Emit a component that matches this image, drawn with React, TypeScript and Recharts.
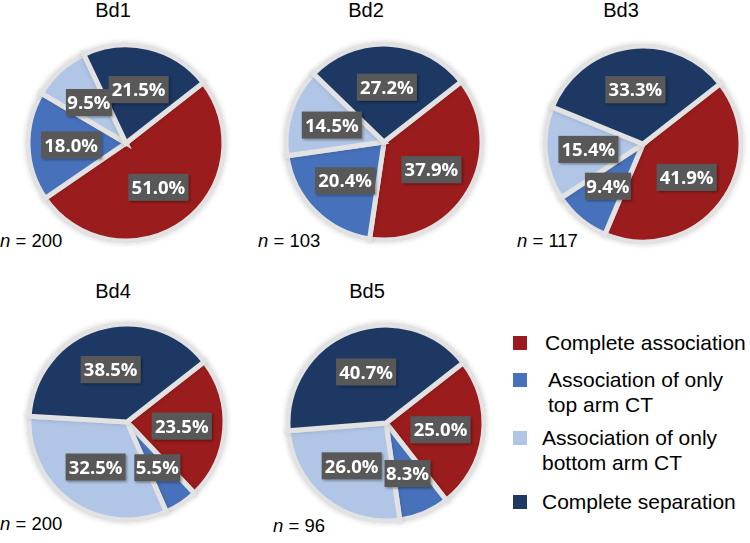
import React from 'react'
import { PieChart, Pie, Cell } from 'recharts'

const CATEGORIES = [
  'Complete association',
  'Association of only top arm CT',
  'Association of only bottom arm CT',
  'Complete separation',
]
const TITLES = ['Bd1', 'Bd2', 'Bd3', 'Bd4', 'Bd5']
const N_VALUES = [200, 103, 117, 200, 96]
const BD1 = [51.0, 18.0, 9.5, 21.5]
const BD2 = [37.9, 20.4, 14.5, 27.2]
const BD3 = [41.9, 9.4, 15.4, 33.3]
const BD4 = [23.5, 5.5, 32.5, 38.5]
const BD5 = [25.0, 8.3, 26.0, 40.7]

const SERIES = [BD1, BD2, BD3, BD4, BD5]
const COLORS = ['#9a1b1f', '#4671bb', '#b1c6e7', '#1f3864']

// panel geometry: pie centre, title centre, n-label origin
const PANELS = [
  { cx: 121, cy: 138, tx: 113, ty: 10, nx: 0, ny: 241 },
  { cx: 379, cy: 137, tx: 366, ty: 10, nx: 258, ny: 241 },
  { cx: 638, cy: 139, tx: 621, ty: 10, nx: 517, ny: 241 },
  { cx: 122, cy: 417, tx: 113, ty: 291, nx: 0, ny: 524 },
  { cx: 381, cy: 418, tx: 367, ty: 291, nx: 273, ny: 526 },
]

const RAD = Math.PI / 180
const font = '"Liberation Sans", Arial, sans-serif'

function PctLabel(props: any) {
  const { cx, cy, midAngle, outerRadius, value } = props
  const r = outerRadius * 0.56
  const x = cx + r * Math.cos(-midAngle * RAD)
  const y = cy + r * Math.sin(-midAngle * RAD)
  const text = `${Number(value).toFixed(1)}%`
  const w = text.length * 14 - 10
  const h = 27
  return (
    <g filter="url(#labelShadow)">
      <rect x={x - w / 2} y={y - h / 2} width={w} height={h} fill="#595959" />
      <text
        x={x}
        y={y}
        dy="0.36em"
        textAnchor="middle"
        fill="#ffffff"
        fontSize={18.5}
        fontWeight={700}
        fontFamily='"Open Sans", sans-serif'
      >
        {text}
      </text>
    </g>
  )
}

export default function App() {
  return (
    <div style={{ position: 'absolute', left: 0, top: 0, width: 750, height: 543, background: '#fff', overflow: 'hidden' }}>
      <svg width={0} height={0} style={{ position: 'absolute' }}>
        <defs>
          <filter id="labelShadow" x="-20%" y="-30%" width="150%" height="170%">
            <feDropShadow dx="1.5" dy="1.5" stdDeviation="1.2" floodColor="#000" floodOpacity="0.35" />
          </filter>
          <filter id="pieShadow" x="-10%" y="-10%" width="120%" height="120%">
            <feDropShadow dx="0" dy="0" stdDeviation="2.5" floodColor="#000" floodOpacity="0.18" />
          </filter>
        </defs>
      </svg>

      <PieChart width={750} height={543} style={{ position: 'absolute', left: 0, top: 0 }}>
        {SERIES.map((vals, p) => (
          <Pie
            key={TITLES[p]}
            data={CATEGORIES.map((name, i) => ({ name, value: vals[i] }))}
            dataKey="value"
            nameKey="name"
            cx={PANELS[p].cx}
            cy={PANELS[p].cy}
            outerRadius={98}
            startAngle={38}
            endAngle={38 - 360}
            stroke="#e2e2e2"
            strokeWidth={5}
            label={PctLabel}
            labelLine={false}
            isAnimationActive={false}
          >
            {vals.map((_, i) => (
              <Cell key={i} fill={COLORS[i]} filter="url(#pieShadow)" />
            ))}
          </Pie>
        ))}
      </PieChart>

      {TITLES.map((t, p) => (
        <div
          key={t}
          style={{
            position: 'absolute',
            left: PANELS[p].tx - 40,
            width: 80,
            top: PANELS[p].ty - 12,
            textAlign: 'center',
            fontFamily: font,
            fontSize: 20,
            lineHeight: '24px',
            color: '#000',
          }}
        >
          {t}
        </div>
      ))}

      {N_VALUES.map((n, p) => (
        <div
          key={p}
          style={{
            position: 'absolute',
            left: PANELS[p].nx,
            top: PANELS[p].ny - 11,
            fontFamily: font,
            fontSize: 18.5,
            lineHeight: '22px',
            color: '#000',
            whiteSpace: 'nowrap',
          }}
        >
          <i>n</i> = {n}
        </div>
      ))}

      {[
        { top: 343, lines: ['Complete association'], tx: 545 },
        { top: 380, lines: ['Association of only', 'top arm CT'], tx: 548 },
        { top: 438, lines: ['Association of only', 'bottom arm CT'], tx: 542 },
        { top: 502, lines: ['Complete separation'], tx: 542 },
      ].map((item, i) => (
        <React.Fragment key={CATEGORIES[i]}>
          <div
            style={{
              position: 'absolute',
              left: 513,
              top: item.top - 7,
              width: 14,
              height: 14,
              background: COLORS[i],
            }}
          />
          <div
            style={{
              position: 'absolute',
              left: item.tx,
              top: item.top - 13,
              fontFamily: font,
              fontSize: 21,
              lineHeight: '25px',
              color: '#000',
              whiteSpace: 'nowrap',
            }}
          >
            {item.lines.map((l) => (
              <div key={l}>{l}</div>
            ))}
          </div>
        </React.Fragment>
      ))}
    </div>
  )
}
